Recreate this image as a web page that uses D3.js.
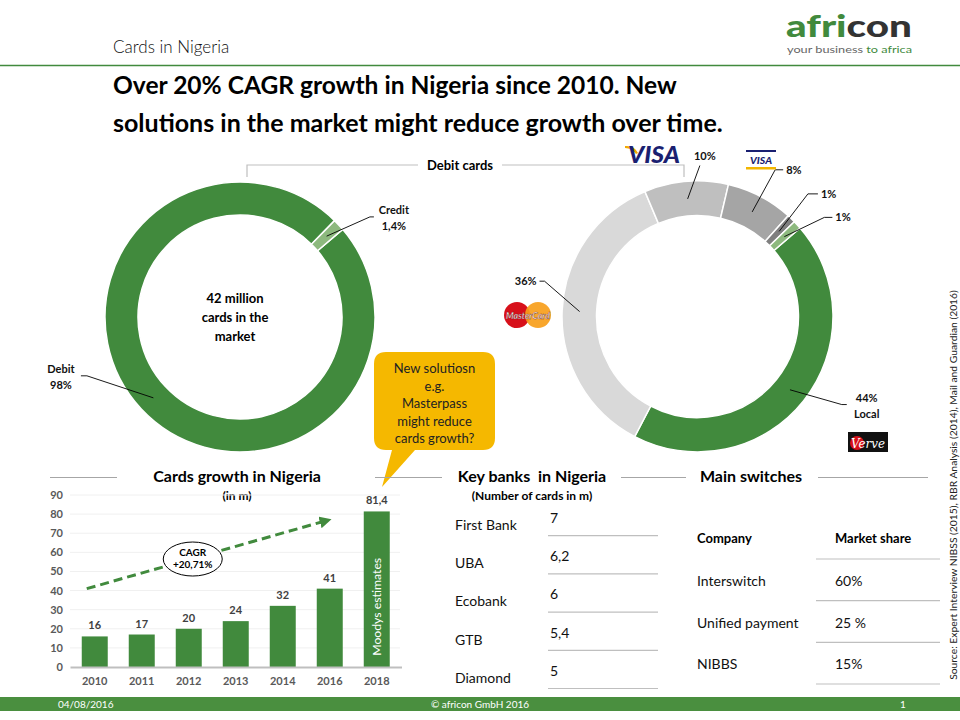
<!DOCTYPE html>
<html>
<head>
<meta charset="utf-8">
<title>Cards in Nigeria</title>
<style>
  body { margin: 0; background: #fff; }
  svg { display: block; font-family: Lato, "Open Sans", sans-serif; }
</style>
</head>
<body>
<svg width="960" height="720"></svg>
<script src="https://d3js.org/d3.v7.min.js"></script>
<script>
// card types (share of 42m cards)
const typeNames = ["Debit", "Credit"]
const typeShares = [98.6, 1.4]
const typeLabels = [["Debit", "98%"], ["Credit", "1,4%"]]

// debit card brands
const brandNames = ["Local", "MasterCard", "Visa", "Visa Debit", "Other", "Other local"]
const brandShares = [44, 36, 10, 8, 1, 1]
const brandLabels = [["44%", "Local"], ["36%"], ["10%"], ["8%"], ["1%"], ["1%"]]

// cards growth (in m)
const years = ["2010", "2011", "2012", "2013", "2014", "2016", "2018"]
const cards = [16, 17, 20, 24, 32, 41, 81.4]
const cardLabels = ["16", "17", "20", "24", "32", "41", "81,4"]
const yTicks = [0, 10, 20, 30, 40, 50, 60, 70, 80, 90]

// key banks
const banks = ["First Bank", "UBA", "Ecobank", "GTB", "Diamond"]
const bankCards = ["7", "6,2", "6", "5,4", "5"]

// main switches
const switches = ["Interswitch", "Unified payment", "NIBBS"]
const switchShares = ["60%", "25 %", "15%"]

const green = "#418a3d"
const lightGreen = "#8db97e"
const rad = d => d * Math.PI / 180
const polar = (a, r) => [r * Math.sin(a), -r * Math.cos(a)]

const svg = d3.select("svg")

const fitWidth = (sel, w) => {
    const len = sel.node().getComputedTextLength()
    sel.attr("font-size", parseFloat(sel.attr("font-size")) * w / len)
    return sel
}

// ---------- header ----------
svg.append("text")
    .attr("x", 113).attr("y", 53)
    .attr("font-size", 17).attr("font-weight", 300).attr("fill", "#111")
    .text("Cards in Nigeria")

svg.append("line")
    .attr("x1", 0).attr("x2", 960).attr("y1", 65.5).attr("y2", 65.5)
    .attr("stroke", green).attr("stroke-width", 1.5)

const logo = svg.append("text")
    .attr("x", 786).attr("y", 37)
    .attr("font-size", 30).attr("font-weight", 900)
    .attr("textLength", 126).attr("lengthAdjust", "spacingAndGlyphs")
logo.append("tspan").attr("fill", green).text("afri")
logo.append("tspan").attr("fill", "#333").text("con")

const tag = svg.append("text")
    .attr("x", 787).attr("y", 53)
    .attr("font-size", 9.5)
    .attr("textLength", 125).attr("lengthAdjust", "spacingAndGlyphs")
tag.append("tspan").attr("fill", "#666").text("your business ")
tag.append("tspan").attr("fill", green).text("to africa")

const titleLines = ["Over 20% CAGR growth in Nigeria since 2010. New",
    "solutions in the market might reduce growth over time."]
const titleWidths = [564, 610]
titleLines.forEach((t, i) => {
    const s = svg.append("text")
        .attr("x", 113).attr("y", 94 + i * 38)
        .attr("font-size", 24).attr("font-weight", 700).attr("fill", "#000")
        .text(t)
    fitWidth(s, titleWidths[i])
})

// bracket over the debit donut
svg.append("path")
    .attr("d", "M247,177V165H418M502,165H684V177")
    .attr("fill", "none").attr("stroke", "#bfbfbf").attr("stroke-width", 1.2)
svg.append("text")
    .attr("x", 460).attr("y", 170).attr("text-anchor", "middle")
    .attr("font-size", 13).attr("font-weight", 700)
    .text("Debit cards")

// ---------- donut helper ----------
const leaderLabels = (g, pies, labels, rMid, layout) => {
    const mid = d3.arc().innerRadius(rMid).outerRadius(rMid)
    pies.forEach((d, i) => {
        const L = layout[i]
        const a = (d.startAngle + d.endAngle) / 2 + rad(L.off)
        const p0 = mid.centroid(d)
        const p1 = polar(a, L.r)
        const p2 = [p1[0] + L.hook, p1[1]]
        g.append("path")
            .attr("d", d3.line()([p0, p1, p2]))
            .attr("fill", "none").attr("stroke", "#000").attr("stroke-width", 0.9)
        const lines = labels[i]
        const t = g.append("text")
            .attr("font-size", 11).attr("font-weight", 700).attr("fill", "#111")
        if (L.pos === "top") {
            t.attr("text-anchor", "middle")
            t.append("tspan").attr("x", p1[0] + 5).attr("y", p1[1] - 6).text(lines[0])
        } else if (lines.length === 2) {
            t.attr("text-anchor", "middle")
            const cx = p2[0] + (L.hook < 0 ? -20 : 20)
            lines.forEach((s, k) => t.append("tspan").attr("x", cx).attr("y", p2[1] - 3 + k * 16).text(s))
        } else {
            t.attr("text-anchor", L.hook < 0 ? "end" : "start")
            t.append("tspan").attr("x", p2[0] + (L.hook < 0 ? -3 : 3)).attr("y", p2[1] + 4).text(lines[0])
        }
    })
}

// ---------- donut 1: debit vs credit ----------
const start1 = rad(49.5)
const pie1 = d3.pie().sort(null).startAngle(start1).endAngle(start1 + 2 * Math.PI)
const arc1 = d3.arc().innerRadius(102).outerRadius(135)
const g1 = svg.append("g").attr("transform", "translate(240,317)")
const pies1 = pie1(typeShares)
g1.selectAll("path.slice")
    .data(pies1)
    .join("path")
    .attr("class", "slice")
    .attr("d", arc1)
    .attr("fill", (d, i) => [green, lightGreen][i])
    .attr("stroke", "#fff").attr("stroke-width", 1.5)

leaderLabels(g1, pies1, typeLabels, 118.5, [
    {off: 22, r: 164, hook: -6},
    {off: 5.4, r: 164, hook: 4}
])

const center = g1.append("text")
    .attr("text-anchor", "middle").attr("font-size", 13).attr("font-weight", 700)
;["42 million", "cards in the", "market"].forEach((s, k) =>
    center.append("tspan").attr("x", -5).attr("y", -14 + k * 19).text(s))

// ---------- donut 2: debit brands ----------
const start2 = rad(49.2)
const pie2 = d3.pie().sort(null).startAngle(start2).endAngle(start2 + 2 * Math.PI)
const arc2 = d3.arc().innerRadius(101).outerRadius(135.5)
const g2 = svg.append("g").attr("transform", "translate(697.5,316.5)")
const pies2 = pie2(brandShares)
const brandColors = [green, "#d9d9d9", "#bfbfbf", "#a5a5a5", "#7f7f7f", lightGreen]
g2.selectAll("path.slice")
    .data(pies2)
    .join("path")
    .attr("class", "slice")
    .attr("d", arc2)
    .attr("fill", (d, i) => brandColors[i])
    .attr("stroke", "#fff").attr("stroke-width", 1.5)

leaderLabels(g2, pies2, brandLabels, 118, [
    {off: -7, r: 169, hook: 5},
    {off: 10.6, r: 157, hook: -5},
    {off: 5.7, r: 151, hook: 0, pos: "top"},
    {off: 0.3, r: 166, hook: 8},
    {off: -1.8, r: 165, hook: 10},
    {off: 4.6, r: 161, hook: 8}
])

// brand logos
const visa = svg.append("g")
visa.append("path")
    .attr("d", "M625,146 Q634,145 638,153 L636,154 Q632,148 625,148Z")
    .attr("fill", "#f2a900")
visa.append("text")
    .attr("x", 628).attr("y", 163)
    .attr("font-size", 22).attr("font-weight", 900).attr("font-style", "italic")
    .attr("fill", "#1a1f71")
    .attr("textLength", 52).attr("lengthAdjust", "spacingAndGlyphs")
    .text("VISA")

const visaDebit = svg.append("g")
visaDebit.append("rect").attr("x", 746).attr("y", 150).attr("width", 30).attr("height", 2).attr("fill", "#1a1f71")
visaDebit.append("text")
    .attr("x", 750).attr("y", 164)
    .attr("font-size", 10).attr("font-weight", 900).attr("font-style", "italic")
    .attr("fill", "#1a1f71")
    .attr("textLength", 22).attr("lengthAdjust", "spacingAndGlyphs")
    .text("VISA")
visaDebit.append("rect").attr("x", 746).attr("y", 167).attr("width", 30).attr("height", 2.5).attr("fill", "#f2b600")

const mc = svg.append("g")
mc.append("circle").attr("cx", 517).attr("cy", 315).attr("r", 13).attr("fill", "#d7101a")
mc.append("circle").attr("cx", 538).attr("cy", 315).attr("r", 13).attr("fill", "#f79e1b").attr("fill-opacity", 0.92)
mc.append("text")
    .attr("x", 506).attr("y", 318.5)
    .attr("font-size", 9.5).attr("font-weight", 700).attr("font-style", "italic")
    .attr("fill", "#fff").attr("stroke", "#6a1a1a").attr("stroke-width", 0.35)
    .attr("textLength", 44).attr("lengthAdjust", "spacingAndGlyphs")
    .text("MasterCard")

const verve = svg.append("g")
verve.append("rect").attr("x", 848).attr("y", 432).attr("width", 40).attr("height", 20).attr("fill", "#111")
verve.append("circle").attr("cx", 857).attr("cy", 443).attr("r", 7).attr("fill", "#d7101a")
verve.append("text")
    .attr("x", 851).attr("y", 448)
    .attr("font-size", 12).attr("font-style", "italic").attr("font-family", "DejaVu Serif, serif")
    .attr("fill", "#fff")
    .attr("textLength", 34).attr("lengthAdjust", "spacingAndGlyphs")
    .text("Verve")

// ---------- speech bubble ----------
svg.append("path")
    .attr("d", "M386,352H483Q495,352 495,364V438Q495,450 483,450H415L382,487L392,450H386Q374,450 374,438V364Q374,352 386,352Z")
    .attr("fill", "#f5b800")
const bubble = svg.append("text")
    .attr("text-anchor", "middle").attr("font-size", 13).attr("fill", "#222")
;["New solutiosn", "e.g.", "Masterpass", "might reduce", "cards growth?"].forEach((s, k) =>
    bubble.append("tspan").attr("x", 434.5).attr("y", 373 + k * 17.5).text(s))

// ---------- section headers ----------
const rules = [[50, 117], [375, 442], [621, 686], [818, 928]]
svg.append("g")
    .selectAll("line")
    .data(rules)
    .join("line")
    .attr("x1", d => d[0]).attr("x2", d => d[1])
    .attr("y1", 477.5).attr("y2", 477.5)
    .attr("stroke", "#a6a6a6").attr("stroke-width", 1.2)

const heads = [
    {x: 237, t: "Cards growth in Nigeria", s: "(in m)"},
    {x: 532, t: "Key banks  in Nigeria", s: "(Number of cards in m)"},
    {x: 751, t: "Main switches", s: ""}
]
heads.forEach(h => {
    svg.append("text")
        .attr("x", h.x).attr("y", 482).attr("text-anchor", "middle")
        .attr("font-size", 16).attr("font-weight", 700).attr("xml:space", "preserve")
        .text(h.t)
    svg.append("text")
        .attr("x", h.x).attr("y", 500).attr("text-anchor", "middle")
        .attr("font-size", 12).attr("font-weight", 700)
        .text(h.s)
})

// ---------- bar chart ----------
const x = d3.scaleBand()
    .domain(years)
    .range([70, 401.5])
    .paddingInner(0.447)
    .paddingOuter(0.25)

const y = d3.scaleLinear()
    .domain([0, 90])
    .range([667, 495])

svg.append("g")
    .selectAll("line")
    .data(yTicks.slice(1))
    .join("line")
    .attr("x1", 70).attr("x2", 400)
    .attr("y1", d => y(d)).attr("y2", d => y(d))
    .attr("stroke", "#f0f0f0")

svg.append("g")
    .attr("transform", "translate(66,0)")
    .call(d3.axisLeft(y).tickValues(yTicks).tickSize(0).tickPadding(3))
    .call(g => g.select(".domain").remove())
    .call(g => g.selectAll("text")
        .attr("font-family", "Lato, sans-serif").attr("font-size", 11)
        .attr("font-weight", 700).attr("fill", "#595959"))

svg.append("g")
    .attr("fill", green)
    .selectAll("rect")
    .data(cards)
    .join("rect")
    .attr("x", (d, i) => x(years[i]))
    .attr("y", d => y(d))
    .attr("width", x.bandwidth())
    .attr("height", d => y(0) - y(d))

svg.append("g")
    .attr("transform", `translate(0,${y(0)})`)
    .call(d3.axisBottom(x).tickSize(0).tickPadding(10))
    .call(g => g.select(".domain").attr("stroke", "#bfbfbf").attr("stroke-width", 2))
    .call(g => g.selectAll("text")
        .attr("font-family", "Lato, sans-serif").attr("font-size", 11)
        .attr("font-weight", 700).attr("fill", "#595959"))

svg.append("g")
    .attr("text-anchor", "middle").attr("font-size", 11).attr("font-weight", 700).attr("fill", "#404040")
    .selectAll("text")
    .data(cards)
    .join("text")
    .attr("x", (d, i) => x(years[i]) + x.bandwidth() / 2)
    .attr("y", d => y(d) - 7)
    .text((d, i) => cardLabels[i])

const last = years[years.length - 1]
const moodys = svg.append("text")
    .attr("transform", `translate(${x(last) + x.bandwidth() / 2 + 4.5},${y(31.5)}) rotate(-90)`)
    .attr("text-anchor", "middle").attr("font-size", 13).attr("fill", "#fff")
    .text("Moodys estimates")
fitWidth(moodys, 98)

// CAGR trend arrow
const defs = svg.append("defs")
defs.append("marker")
    .attr("id", "head").attr("viewBox", "0 0 10 10")
    .attr("refX", 5).attr("refY", 5)
    .attr("markerWidth", 4).attr("markerHeight", 4)
    .attr("orient", "auto")
    .append("path").attr("d", "M0,0L10,5L0,10Z").attr("fill", green)

const xc = yr => x(yr) + x.bandwidth() / 2
svg.append("line")
    .attr("x1", xc("2010") - 8).attr("y1", y(41))
    .attr("x2", xc("2016") - 4).attr("y2", y(76.5))
    .attr("stroke", green).attr("stroke-width", 3).attr("stroke-dasharray", "9,5")
    .attr("marker-end", "url(#head)")

svg.append("ellipse")
    .attr("cx", xc("2012") + 4).attr("cy", y(56.5))
    .attr("rx", 29.5).attr("ry", 17)
    .attr("fill", "#fff").attr("stroke", "#000").attr("stroke-width", 1)
const cagr = svg.append("text")
    .attr("text-anchor", "middle").attr("font-size", 10).attr("font-weight", 700)
;["CAGR", "+20,71%"].forEach((s, k) =>
    cagr.append("tspan").attr("x", xc("2012") + 4).attr("y", y(56.5) - 3 + k * 12).text(s))

// ---------- key banks table ----------
const rowB = d3.scaleBand().domain(banks).range([498, 689])
svg.append("g")
    .attr("font-size", 14).attr("fill", "#111")
    .selectAll("text")
    .data(banks)
    .join("text")
    .attr("x", 455)
    .attr("y", d => rowB(d) + 32)
    .text(d => d)
svg.append("g")
    .attr("font-size", 14).attr("fill", "#111")
    .selectAll("text")
    .data(bankCards)
    .join("text")
    .attr("x", 550)
    .attr("y", (d, i) => rowB(banks[i]) + 25)
    .text(d => d)
svg.append("g")
    .selectAll("line")
    .data(banks)
    .join("line")
    .attr("x1", 548).attr("x2", 658)
    .attr("y1", d => rowB(d) + rowB.bandwidth() - 0.5)
    .attr("y2", d => rowB(d) + rowB.bandwidth() - 0.5)
    .attr("stroke", "#bfbfbf").attr("stroke-width", 1.2)

// ---------- main switches table ----------
svg.append("text").attr("x", 697).attr("y", 543)
    .attr("font-size", 13).attr("font-weight", 700).text("Company")
svg.append("text").attr("x", 835).attr("y", 543)
    .attr("font-size", 13).attr("font-weight", 700).text("Market share")

const rowS = d3.scaleBand().domain(switches).range([559, 684])
svg.append("g")
    .attr("font-size", 14).attr("fill", "#111")
    .selectAll("text")
    .data(switches)
    .join("text")
    .attr("x", 697)
    .attr("y", d => rowS(d) + 27)
    .text(d => d)
svg.append("g")
    .attr("font-size", 14).attr("fill", "#111")
    .selectAll("text")
    .data(switchShares)
    .join("text")
    .attr("x", 835)
    .attr("y", (d, i) => rowS(switches[i]) + 27)
    .text(d => d)
svg.append("g")
    .selectAll("line")
    .data([null].concat(switches))
    .join("line")
    .attr("x1", 816).attr("x2", 940)
    .attr("y1", (d, i) => i === 0 ? 559 : rowS(d) + rowS.bandwidth())
    .attr("y2", (d, i) => i === 0 ? 559 : rowS(d) + rowS.bandwidth())
    .attr("stroke", "#bfbfbf").attr("stroke-width", 1.2)

// ---------- source & footer ----------
const src = svg.append("text")
    .attr("transform", "translate(957,485) rotate(-90)")
    .attr("text-anchor", "middle").attr("font-size", 10).attr("fill", "#222")
    .text("Source: Expert Interview NIBSS (2015), RBR Analysis (2014), Mail and Guardian (2016)")
fitWidth(src, 390)

svg.append("rect")
    .attr("x", 0).attr("y", 697).attr("width", 960).attr("height", 14)
    .attr("fill", "#4a8f3f")
const foot = svg.append("g").attr("font-size", 10).attr("fill", "#fff")
foot.append("text").attr("x", 58).attr("y", 708).text("04/08/2016")
foot.append("text").attr("x", 480).attr("y", 708).attr("text-anchor", "middle").text("© africon GmbH 2016")
foot.append("text").attr("x", 900).attr("y", 708).text("1")
</script>
</body>
</html>
